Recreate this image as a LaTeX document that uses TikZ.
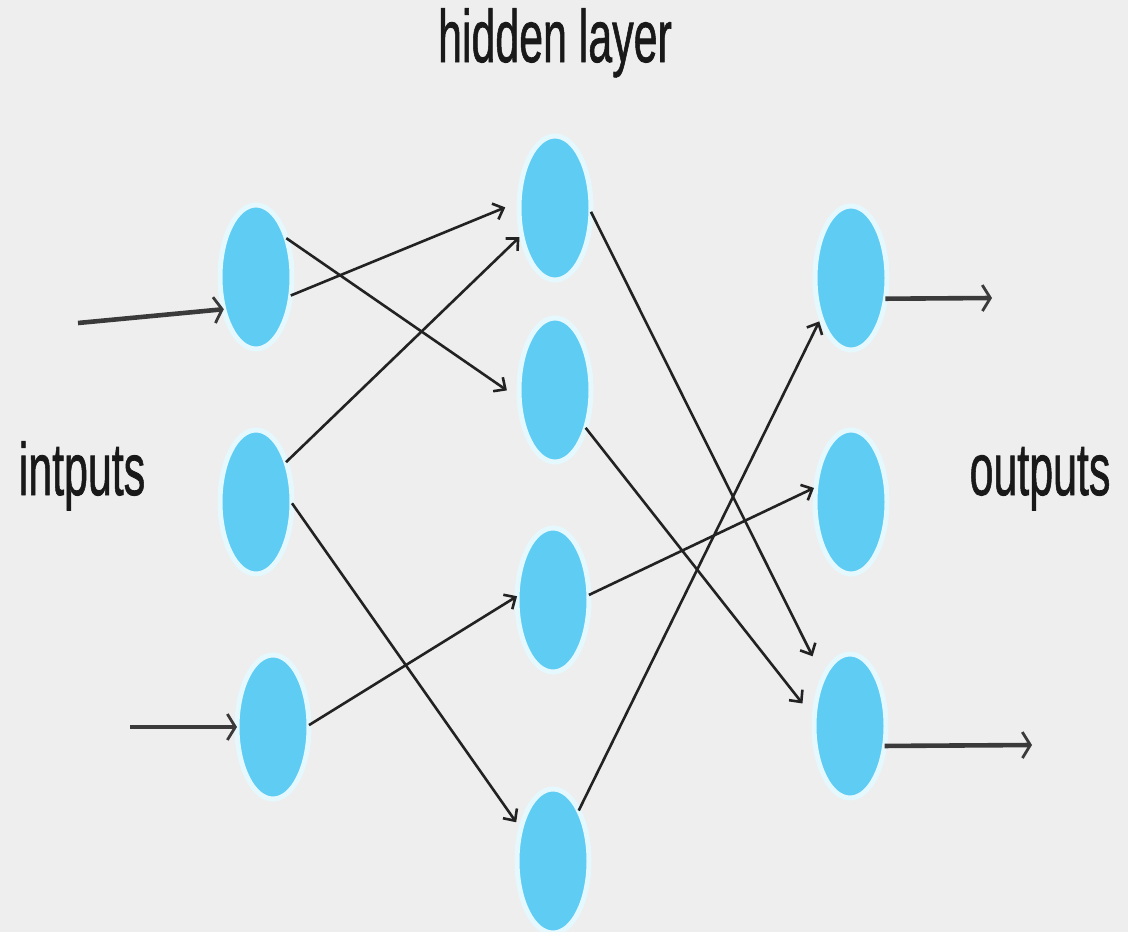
\documentclass[tikz,border=0pt]{standalone}
\usepackage{fontspec}
\usepackage{graphicx}
\setmainfont{Liberation Sans}
\newfontface\lblfont{Liberation Sans}[FakeBold=1.2]
\usetikzlibrary{shapes.geometric,arrows.meta}
\definecolor{bg}{HTML}{EEEEEE}
\definecolor{neuronfill}{HTML}{5FCCF3}
\definecolor{neuronhalo}{HTML}{E4F8FE}
\definecolor{wire}{HTML}{222222}
\definecolor{iowire}{HTML}{3A3A3A}
\newcommand{\lbl}[1]{\scalebox{0.58}[1]{\lblfont\fontsize{74}{76}\selectfont #1}}
\begin{document}
\begin{tikzpicture}[x=1pt, y=-1pt,
  neuron/.style={ellipse, fill=neuronfill, draw=neuronhalo, line width=5pt, outer sep=0pt,
    minimum width=72pt, minimum height=144pt, inner sep=0pt},
  link/.style={wire, line width=2.6pt, -{Straight Barb[length=9pt,width=17pt]}},
  io/.style={iowire, line width=4.6pt, -{Straight Barb[length=8pt,width=26pt,line width=2.8pt]}},
  title/.style={anchor=base, text=black!90, inner sep=0pt}]
\useasboundingbox (0,0) rectangle (1128,932);
\clip (0,0) rectangle (1128,932);
\fill[bg] (0,0) rectangle (1128,932);
% inputs
\node[neuron] (i1) at (256,277) {};
\node[neuron] (i2) at (256,502) {};
\node[neuron] (i3) at (273,727) {};
% hidden layer
\node[neuron] (h1) at (555,208) {};
\node[neuron] (h2) at (555,390) {};
\node[neuron] (h3) at (553,600) {};
\node[neuron] (h4) at (553,861) {};
% outputs
\node[neuron] (o1) at (851,278) {};
\node[neuron] (o2) at (851,502) {};
\node[neuron] (o3) at (850,726) {};
% labels
\node[title] (hid) at (555,62) {\lbl{hidden layer}};
\node[title] (inp) at (82,495) {\lbl{intputs}};
\node[title] (outp) at (1040,495) {\lbl{outputs}};
% free ends
\coordinate (in1) at (78,323);
\coordinate (in3) at (130,727);
\coordinate (out1) at (992,298);
\coordinate (out3) at (1032,745);
\draw[io] (in1) -- (i1.225);
\draw[io] (in3) -- (i3.west);
\draw[io] (o1.-31) -- (out1);
\draw[io] (o3.-30) -- (out3);
% connections
\draw[link, shorten >=15pt] (i1.52) -- (h2.194);
\draw[link, shorten >=15pt] (i1.-28) -- (h1.170);
\draw[link, shorten >=3pt] (i2.53) -- (h1.219);
\draw[link, shorten >=8pt] (i2.-2) -- (h4.135);
\draw[link] (i3.3) -- (h3.174);
\draw[link, shorten >=24pt] (h1.-6) -- (o3.119);
\draw[link, shorten >=19pt] (h2.-51) -- (o3.168);
\draw[link, shorten >=2pt] (h3.8) -- (o2.157);
\draw[link, shorten >=4pt] (h4.63) -- (o1.233);
\end{tikzpicture}
\end{document}
